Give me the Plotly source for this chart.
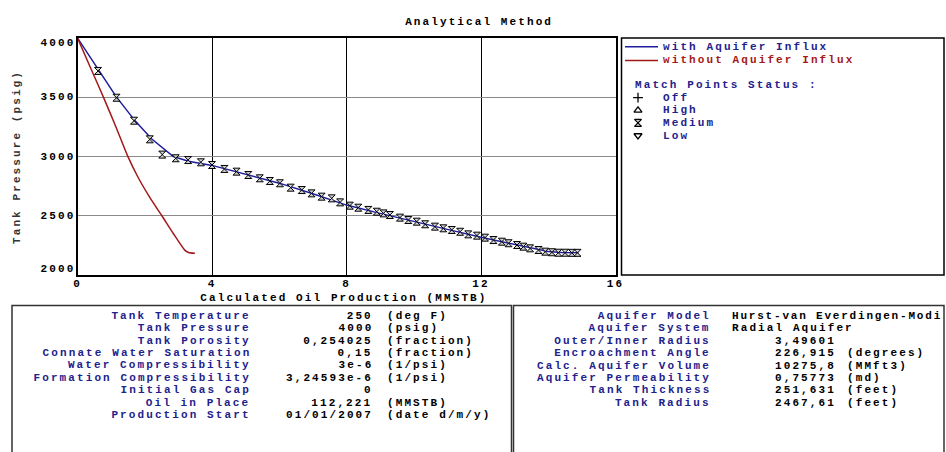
import plotly.graph_objects as go

W, H = 946, 452

# ---- data ----
x_with = [0, 0.3, 0.6, 1.15, 1.7, 2.2, 2.85, 3.3, 4.0, 5.0, 6.0, 7.0, 8.0, 9.0, 10.0, 11.0, 12.0, 13.0, 13.5, 14.0, 14.4, 14.9]
y_with = [4000, 3870, 3740, 3505, 3305, 3150, 3000, 2960, 2925, 2850, 2775, 2685, 2590, 2520, 2450, 2385, 2318, 2256, 2226, 2198, 2189, 2187]

x_without = [0, 0.4, 0.78, 1.15, 1.49, 1.8, 2.15, 2.51, 2.85, 3.19, 3.3, 3.49]
y_without = [4000, 3740, 3495, 3245, 3005, 2825, 2655, 2500, 2350, 2210, 2190, 2183]

x_match = [0.61, 1.16, 1.68, 2.15, 2.52, 2.92, 3.29, 3.67, 4.00, 4.37, 4.73, 5.08, 5.42, 5.72, 6.02, 6.34,
           6.67, 6.96, 7.26, 7.56, 7.81, 8.10, 8.35, 8.65, 8.90, 9.10, 9.29, 9.59, 9.84, 10.09, 10.34, 10.63,
           10.88, 11.13, 11.38, 11.62, 11.88, 12.12, 12.37, 12.62, 12.82, 13.07, 13.26, 13.46, 13.71, 13.91,
           14.11, 14.30, 14.50, 14.70, 14.87]
y_match = [3722, 3496, 3302, 3145, 3016, 2985, 2970, 2951, 2928, 2895, 2872, 2844, 2816, 2793, 2774, 2737,
           2717, 2689, 2661, 2647, 2613, 2585, 2568, 2549, 2534, 2520, 2506, 2484, 2464, 2450, 2428, 2408,
           2394, 2380, 2365, 2343, 2332, 2315, 2295, 2281, 2268, 2253, 2239, 2225, 2211, 2197,
           2192, 2188, 2188, 2187, 2187]

x_ticks = [0, 4, 8, 12, 16]
y_ticks = [2000, 2500, 3000, 3500, 4000]

legend_lines = ["with Aquifer Influx", "without Aquifer Influx"]
status_names = ["Off", "High", "Medium", "Low"]
status_symbols = ["cross-thin-open", "triangle-up-open", "hourglass", "triangle-down-open"]

tank_labels = ["Tank Temperature", "Tank Pressure", "Tank Porosity", "Connate Water Saturation",
               "Water Compressibility", "Formation Compressibility", "Initial Gas Cap", "Oil in Place",
               "Production Start"]
tank_values = ["250", "4000", "0,254025", "0,15", "3e-6", "3,24593e-6", "0", "112,221", "01/01/2007"]
tank_units = ["(deg F)", "(psig)", "(fraction)", "(fraction)", "(1/psi)", "(1/psi)", "", "(MMSTB)", "(date d/m/y)"]

aq_labels = ["Aquifer Model", "Aquifer System", "Outer/Inner Radius", "Encroachment Angle",
             "Calc. Aquifer Volume", "Aquifer Permeability", "Tank Thickness", "Tank Radius"]
aq_values = ["Hurst-van Everdingen-Modi", "Radial Aquifer", "3,49601", "226,915", "10275,8",
             "0,75773", "251,631", "2467,61"]
aq_units = ["", "", "", "(degrees)", "(MMft3)", "(md)", "(feet)", "(feet)"]

# ---- style ----
FONT = "Liberation Mono"
FS = 11
NAVY = "#22228c"
BLUE = "#1e1e9c"
RED = "#a31818"

def X(px):
    return px / W

def Y(py):
    return 1 - py / H

fig = go.Figure()

fig.add_trace(go.Scatter(x=x_with, y=y_with, mode="lines", line=dict(color=BLUE, width=1.5),
                         name=legend_lines[0]))
fig.add_trace(go.Scatter(x=x_without, y=y_without, mode="lines",
                         line=dict(color=RED, width=1.5, shape="spline", smoothing=0.6),
                         name=legend_lines[1]))
fig.add_trace(go.Scatter(x=x_match, y=y_match, mode="markers", name="Medium",
                         marker=dict(symbol="hourglass", size=7, color="#d0d0d0",
                                     line=dict(color="black", width=1))))

# legend symbols in a pixel-based overlay axis over the legend box
leg_rows = [97.7, 110.3, 122.9, 135.5]
fig.add_trace(go.Scatter(x=[638] * 4, y=leg_rows, xaxis="x2", yaxis="y2", mode="markers",
                         marker=dict(symbol=status_symbols, size=7, color=["black", "black", "#d0d0d0", "black"],
                                     line=dict(color="black", width=1.3)),
                         hoverinfo="skip"))

axfont = dict(family=FONT, size=FS, color="black", weight="bold")
fig.update_layout(
    width=W, height=H, margin=dict(l=0, r=0, t=0, b=0),
    paper_bgcolor="white", plot_bgcolor="white", showlegend=False,
    xaxis=dict(domain=[X(77.5), X(615.5)], range=[0, 16], tickvals=x_ticks, showgrid=True,
               gridcolor="black", gridwidth=1, showline=True, mirror=True, linecolor="black",
               linewidth=2, zeroline=False, ticks="", tickfont=axfont, automargin=False,
               ticklabelstandoff=-3),
    yaxis=dict(domain=[Y(275), Y(38)], range=[2000, 4000], tickvals=y_ticks, showgrid=True,
               gridcolor="#8a8a8a", gridwidth=1, showline=True, mirror=True, linecolor="black",
               linewidth=2, zeroline=False, ticks="", showticklabels=False, automargin=False),
    xaxis2=dict(domain=[X(621.5), X(944)], range=[621.5, 944], visible=False, anchor="y2", fixedrange=True),
    yaxis2=dict(domain=[Y(275), Y(38)], range=[275, 38], visible=False, anchor="x2", fixedrange=True),
)

ann = []
def text(px, py, s, color="black", anchor="left", size=FS, angle=0):
    ann.append(dict(x=X(px), y=Y(py), xref="paper", yref="paper", text=s, showarrow=False,
                    xanchor=anchor, yanchor="middle", align=anchor, textangle=angle,
                    font=dict(family=FONT, size=size, color=color, weight="bold")))

# y tick labels: end labels are drawn just inside the plot's top/bottom edges, as in the original
for v in y_ticks:
    shift = -5 if v == max(y_ticks) else (6 if v == min(y_ticks) else 0)
    ann.append(dict(x=X(76.5), y=v, xref="paper", yref="y", text=str(v), showarrow=False,
                    xanchor="right", yanchor="middle", align="right", yshift=shift,
                    font=dict(family=FONT, size=FS, color="black", weight="bold")))

text(478.5, 22, "Analytical Method", anchor="center")
text(344, 297.5, "Calculated Oil Production (MMSTB)", anchor="center")
text(17, 157, "Tank Pressure (psig)", color="#333333", anchor="center", angle=-90)

# legend box content
shapes = []
shapes.append(dict(type="rect", xref="paper", yref="paper", x0=X(621.5), x1=X(944), y0=Y(275), y1=Y(38),
                   line=dict(color="black", width=1.5)))
for i, (name, col) in enumerate(zip(legend_lines, [BLUE, RED])):
    py = 46.7 + i * 13.7
    shapes.append(dict(type="line", xref="paper", yref="paper", x0=X(625), x1=X(658), y0=Y(py), y1=Y(py),
                       line=dict(color=col, width=1.5)))
    text(660.5, py, name, color=NAVY if i == 0 else RED)
text(632.5, 85.5, "Match Points Status :", color=NAVY)
for py, name in zip(leg_rows, status_names):
    text(660.5, py, name, color=NAVY)

# bottom tables
shapes.append(dict(type="rect", xref="paper", yref="paper", x0=X(12), x1=X(511.5), y0=Y(460), y1=Y(305.5),
                   line=dict(color="#333333", width=1.5)))
shapes.append(dict(type="rect", xref="paper", yref="paper", x0=X(513.5), x1=X(944), y0=Y(460), y1=Y(305.5),
                   line=dict(color="#333333", width=1.5)))

for i, (lab, val, unit) in enumerate(zip(tank_labels, tank_values, tank_units)):
    py = 315.7 + i * 12.4
    text(252.5, py, lab, color=NAVY, anchor="right")
    text(374.5, py, val, anchor="right")
    if unit:
        text(385, py, unit)

for i, (lab, val, unit) in enumerate(zip(aq_labels, aq_values, aq_units)):
    py = 315.7 + i * 12.45
    text(712.5, py, lab, color=NAVY, anchor="right")
    if i == 0:
        # slightly tighter spacing so the long model name stays inside the box
        text(730, py, "<span style='letter-spacing:1.8px'>" + val + "</span>")
    else:
        text(730 if i < 2 else 773, py, val)
    if unit:
        text(845, py, unit)

fig.update_layout(annotations=ann, shapes=shapes)

css = ("body{margin:0;overflow:hidden}"
       " .annotation-text, .xtick text, .ytick text{letter-spacing:2.1px}")
post = ("var s=document.createElement('style');s.textContent=" + repr(css) + ";"
        "document.head.appendChild(s);")
fig.write_html("out.html", post_script=post, config={"displayModeBar": False})
